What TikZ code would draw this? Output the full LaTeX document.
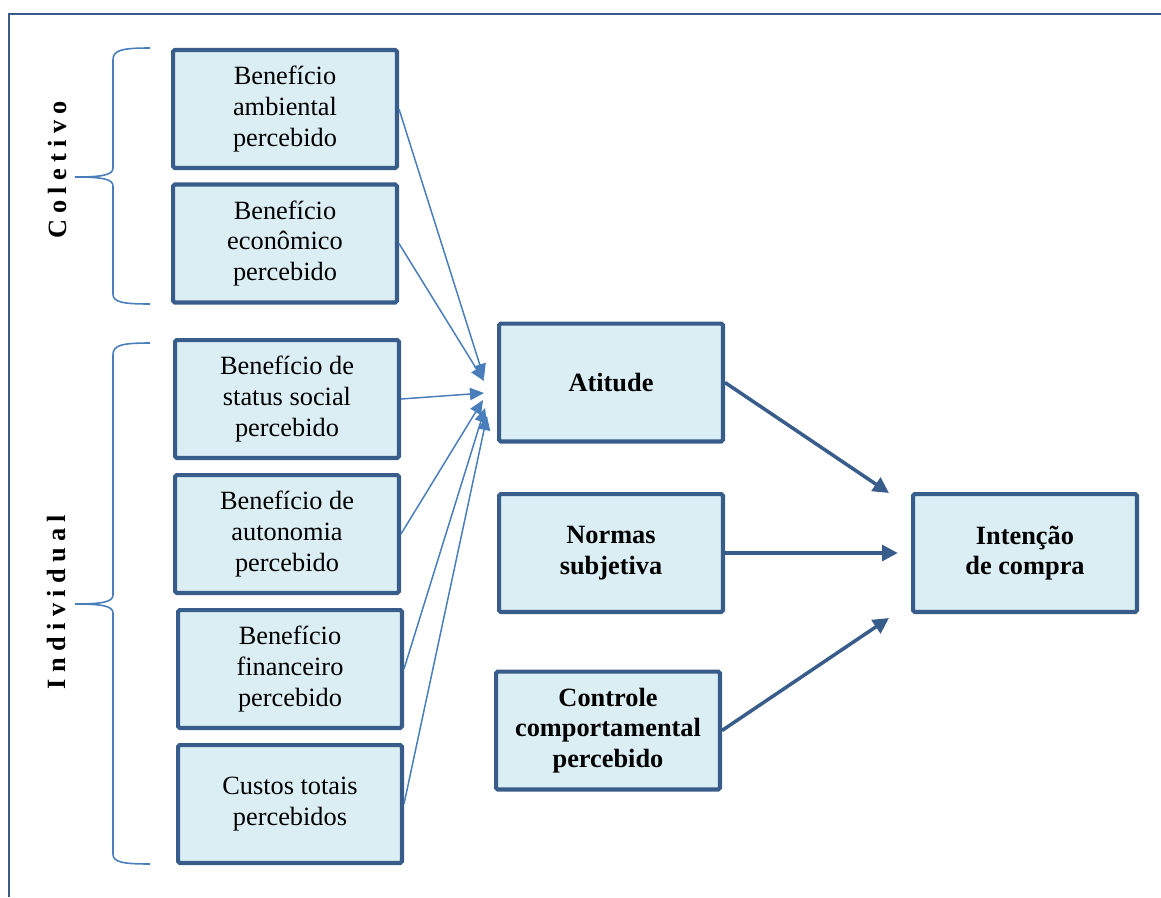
\documentclass[tikz,border=0pt]{standalone}
\usepackage{fontspec}
\setmainfont{Liberation Serif}
\newfontfamily\spaced[LetterSpace=24]{Liberation Serif}
\usetikzlibrary{arrows.meta}
\definecolor{boxline}{RGB}{56,93,138}
\definecolor{boxfill}{RGB}{219,238,244}
\definecolor{thinline}{RGB}{74,126,187}
\tikzset{
  factor/.style={draw=boxline, line width=2.3pt, rounded corners=1pt, fill=boxfill, minimum width=4.48cm, minimum height=2.36cm, align=center, font=\fontsize{15}{17.4}\selectfont},
  construct/.style={factor, font=\fontsize{15}{17.4}\selectfont\bfseries},
  feed/.style={-{Triangle[length=8pt,width=7pt]}, line width=0.85pt, draw=thinline},
  effect/.style={-{Triangle[length=9pt,width=9pt]}, line width=2pt, draw=boxline},
  brace/.style={draw=thinline, line width=0.9pt},
  group/.style={rotate=90, font=\spaced\fontsize{15}{17.4}\selectfont\bfseries}
}
\begin{document}
\begin{tikzpicture}[x=0.02cm, y=-0.02cm]
  \useasboundingbox (0,0) rectangle (1161,897);
  \draw[boxline, line width=1.1pt] (1161,14) -- (9,14) -- (9,897);

  % perceived benefits
  \node[factor] (b1) at (285,109) {Benefício\\ambiental\\percebido};
  \node[factor] (b2) at (285,243.5) {Benefício\\econômico\\percebido};
  \node[factor] (b3) at (287,399) {Benefício de\\status social\\percebido};
  \node[factor] (b4) at (287,534) {Benefício de\\autonomia\\percebido};
  \node[factor] (b5) at (290,669) {Benefício\\financeiro\\percebido};
  \node[factor] (b6) at (290,804) {Custos totais\\percebidos};

  % TPB constructs
  \node[construct] (att) at (611,382.5) {Atitude};
  \node[construct] (norm) at (611,553) {Normas\\subjetiva};
  \node[construct] (ctrl) at (608,730.5) {Controle\\comportamental\\percebido};
  \node[construct] (int) at (1025,553) {Intenção\\de compra};

  % arrow ends
  \coordinate (t1) at (484,378);
  \coordinate (t2) at (484,381);
  \coordinate (t3) at (484,393);
  \coordinate (t4) at (483,400);
  \coordinate (t5) at (485,408);
  \coordinate (t6) at (487,416);
  \coordinate (e1) at (889,493);
  \coordinate (e3) at (889,618);

  \draw[feed] (b1.east) -- (t1);
  \draw[feed] (b2.east) -- (t2);
  \draw[feed] (b3.east) -- (t3);
  \draw[feed] (b4.east) -- (t4);
  \draw[feed] (b5.east) -- (t5);
  \draw[feed] (b6.east) -- (t6);

  \draw[effect] (att.east) -- (e1);
  \draw[effect, shorten >=7.5pt] (norm.east) -- (int.west);
  \draw[effect] (ctrl.east) -- (e3);

  % braces
  \draw[brace] (150,48) .. controls (122,48) and (113,50) .. (113,60) -- (113,168)
    .. controls (113,175) and (102,177) .. (75,177)
    .. controls (102,177) and (113,179) .. (113,186) -- (113,294)
    .. controls (113,302) and (122,304) .. (150,304);
  \draw[brace] (150,343) .. controls (122,343) and (113,345) .. (113,355) -- (113,595)
    .. controls (113,602) and (102,604) .. (75,604)
    .. controls (102,604) and (113,606) .. (113,613) -- (113,854)
    .. controls (113,862) and (122,864) .. (150,864);
  \node[group] (col) at (57,170) {Coletivo};
  \node[group] (ind) at (57,602) {Individual};
\end{tikzpicture}
\end{document}
